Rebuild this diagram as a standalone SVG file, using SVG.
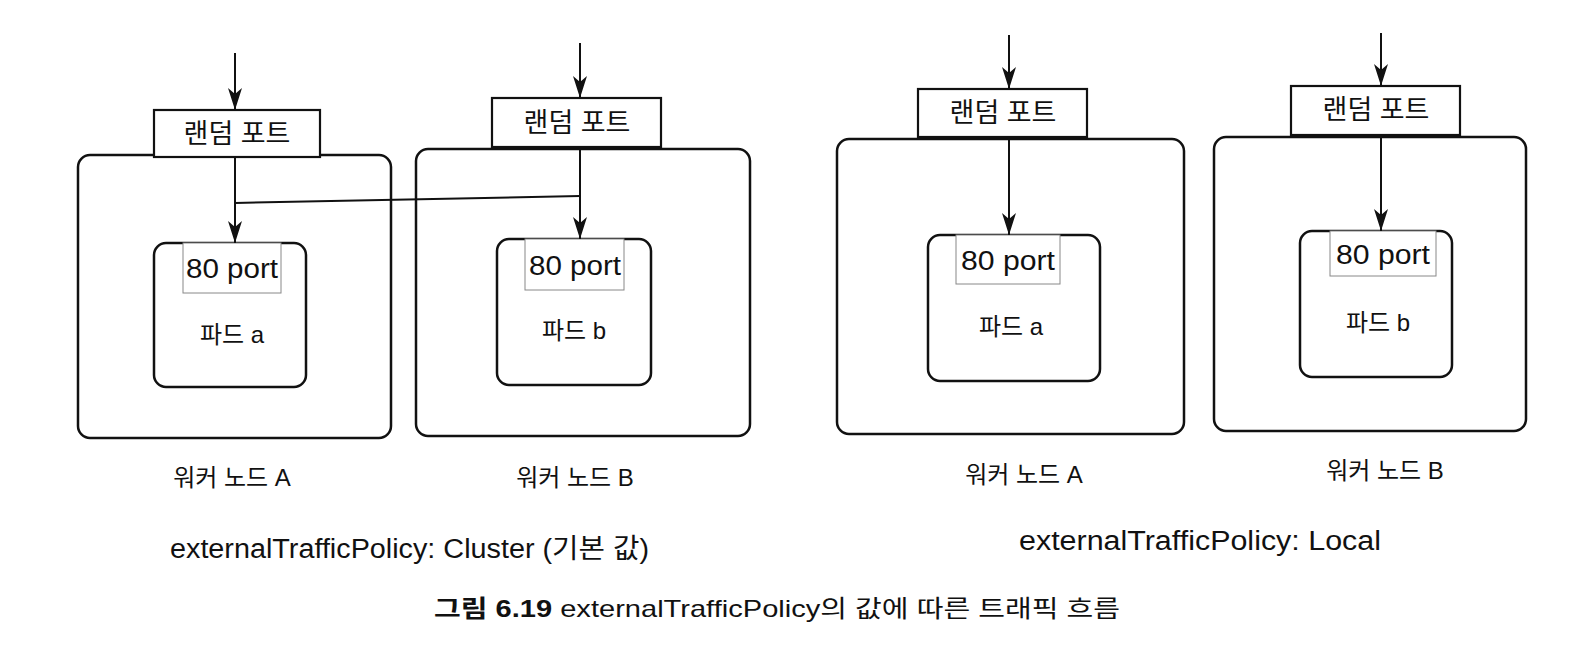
<svg xmlns="http://www.w3.org/2000/svg" width="1590" height="666" viewBox="0 0 1590 666">
<defs>
<style>
.node{fill:#fff;stroke:#111;stroke-width:2.5}
.port{fill:#fff;stroke:#111;stroke-width:2.2}
.p80{fill:#fff;stroke:#888;stroke-width:1}
.t{font-family:"Liberation Sans","Noto Sans CJK KR",sans-serif;fill:#111;font-size:24px;text-anchor:middle}
.rp{font-size:27px}
.pt{font-size:27px}
.big{font-size:27px;text-anchor:start}
.cap{font-size:24px;text-anchor:start}
.ln{fill:none;stroke:#111;stroke-width:2}
</style>
<marker id="ah" viewBox="0 0 22 14" refX="22" refY="7" markerWidth="22" markerHeight="14" markerUnits="userSpaceOnUse" orient="auto">
<path d="M0,0 L22,7 L0,14 L6,7 z" fill="#111"/>
</marker>
</defs>
<rect width="1590" height="666" fill="#fff"/>

<g id="nodeA">
<rect class="node" x="78" y="155" width="313" height="283" rx="12"/>
<rect class="port" x="154" y="110" width="166" height="47"/>
<text class="t rp" x="237" y="143">랜덤 포트</text>
<rect class="node" x="154" y="243" width="152" height="144" rx="12"/>
<rect class="p80" x="183" y="243" width="98" height="50"/>
<text class="t pt" x="232" y="278" textLength="92" lengthAdjust="spacingAndGlyphs">80 port</text>
<text class="t" x="232" y="343">파드 a</text>
<text class="t" x="232" y="486">워커 노드 A</text>
</g>

<g id="nodeB">
<rect class="node" x="416" y="149" width="334" height="287" rx="12"/>
<rect class="port" x="492" y="98" width="169" height="49"/>
<text class="t rp" x="577" y="132">랜덤 포트</text>
<rect class="node" x="497" y="239" width="154" height="146" rx="12"/>
<rect class="p80" x="525" y="239" width="99" height="51"/>
<text class="t pt" x="575" y="275" textLength="92" lengthAdjust="spacingAndGlyphs">80 port</text>
<text class="t" x="574" y="339">파드 b</text>
<text class="t" x="575" y="486">워커 노드 B</text>
</g>

<g id="nodeC">
<rect class="node" x="837" y="139" width="347" height="295" rx="12"/>
<rect class="port" x="918" y="89" width="169" height="48"/>
<text class="t rp" x="1003" y="122">랜덤 포트</text>
<rect class="node" x="928" y="235" width="172" height="146" rx="12"/>
<rect class="p80" x="956" y="235" width="104" height="49"/>
<text class="t pt" x="1008" y="270" textLength="94" lengthAdjust="spacingAndGlyphs">80 port</text>
<text class="t" x="1011" y="335">파드 a</text>
<text class="t" x="1024" y="483">워커 노드 A</text>
</g>

<g id="nodeD">
<rect class="node" x="1214" y="137" width="312" height="294" rx="12"/>
<rect class="port" x="1291" y="86" width="169" height="49"/>
<text class="t rp" x="1376" y="119">랜덤 포트</text>
<rect class="node" x="1300" y="231" width="152" height="146" rx="12"/>
<rect class="p80" x="1330" y="231" width="106" height="45"/>
<text class="t pt" x="1383" y="264" textLength="94" lengthAdjust="spacingAndGlyphs">80 port</text>
<text class="t" x="1378" y="331">파드 b</text>
<text class="t" x="1385" y="479">워커 노드 B</text>
</g>

<g id="connectors">
<line class="ln" x1="235" y1="53" x2="235" y2="110" marker-end="url(#ah)"/>
<line class="ln" x1="235" y1="157" x2="235" y2="243" marker-end="url(#ah)"/>
<line class="ln" x1="580" y1="43" x2="580" y2="98" marker-end="url(#ah)"/>
<line class="ln" x1="580" y1="147" x2="580" y2="239" marker-end="url(#ah)"/>
<polyline class="ln" points="580,196 235,203"/>
<line class="ln" x1="1009" y1="35" x2="1009" y2="89" marker-end="url(#ah)"/>
<line class="ln" x1="1009" y1="137" x2="1009" y2="235" marker-end="url(#ah)"/>
<line class="ln" x1="1381" y1="33" x2="1381" y2="86" marker-end="url(#ah)"/>
<line class="ln" x1="1381" y1="135" x2="1381" y2="231" marker-end="url(#ah)"/>
</g>

<g id="labels">
<text class="t big" x="170" y="558" textLength="479" lengthAdjust="spacingAndGlyphs">externalTrafficPolicy: Cluster (기본 값)</text>
<text class="t big" x="1019" y="550" textLength="362" lengthAdjust="spacingAndGlyphs">externalTrafficPolicy: Local</text>
<text class="t cap" x="434" y="617" textLength="686" lengthAdjust="spacingAndGlyphs"><tspan font-weight="bold">그림 6.19</tspan> externalTrafficPolicy의 값에 따른 트래픽 흐름</text>
</g>
</svg>
